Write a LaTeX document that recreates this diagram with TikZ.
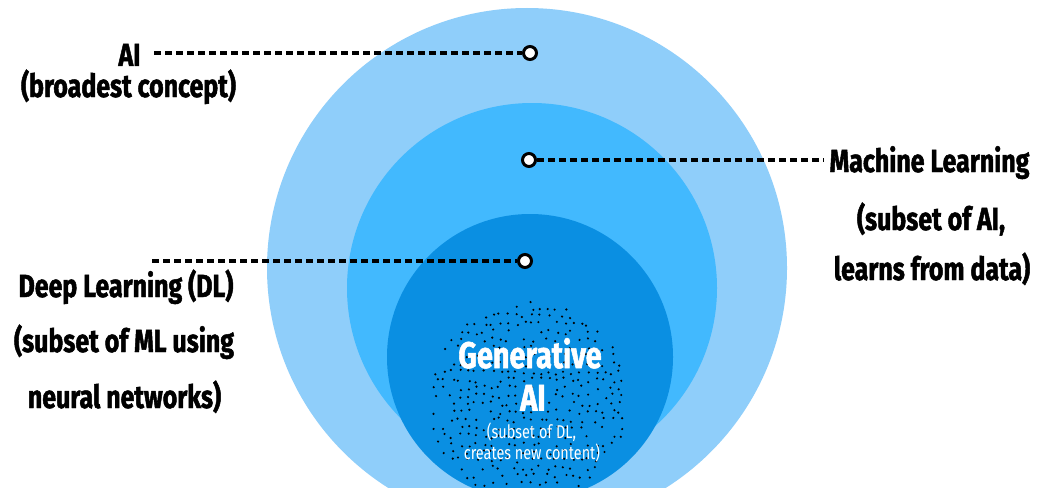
\documentclass[tikz,border=0pt]{standalone}
\usepackage{fontspec}
\newfontfamily\lblfont[FakeStretch=0.78,BoldFeatures={FakeBold=1.5}]{Fira Sans}
\definecolor{outerblue}{RGB}{143,206,250}
\definecolor{midblue}{RGB}{66,185,254}
\definecolor{innerblue}{RGB}{10,143,226}
\begin{document}
\begin{tikzpicture}[x=1pt,y=-1pt,
  lbl/.style={font=\lblfont\bfseries\fontsize{32}{32}\selectfont, inner sep=0pt, anchor=base, text=black},
  genlbl/.style={font=\lblfont\bfseries\fontsize{37}{37}\selectfont, inner sep=0pt, anchor=base, text=white},
  gensub/.style={font=\lblfont\fontsize{18.5}{18.5}\selectfont, inner sep=0pt, anchor=base, text=white},
  conn/.style={line width=3.2pt, dash pattern=on 6.5pt off 4.5pt, draw=black},
  marker/.style={circle, draw=black, fill=white, line width=3pt, minimum size=13pt, inner sep=0pt}]
\useasboundingbox (0,0) rectangle (1038,487);
\fill[white] (0,0) rectangle (1038,487);
\begin{scope}
\clip (0,0) rectangle (1038,487);
\fill[outerblue] (527,268) circle (260);
\fill[midblue] (532,288) circle (185);
\fill[innerblue] (530,357) circle (143);
\begin{scope}
\clip (530,357) circle (143);
\pgfmathsetseed{11}
\foreach \gx in {-100,-92,...,100}{
  \foreach \gy in {-100,-92,...,100}{
    \pgfmathsetmacro{\px}{\gx+5*(rnd-0.5)}
    \pgfmathsetmacro{\py}{\gy+5*(rnd-0.5)}
    \pgfmathsetmacro{\keep}{((\px/10)*(\px/10)+(\py/10)*(\py/10)<100) && (rnd<0.78) ? 1 : 0}
    \ifdim\keep pt>0.5pt
      \fill[black] ({528+\px},{400+\py}) circle (1.2);
    \fi
  }
}
\end{scope}
\end{scope}
% labels
\node[lbl] (ai) at (129.5,66) {AI};
\node[lbl] (aidesc) at (128.5,97) {(broadest concept)};
\node[lbl] (ml) at (929.5,172) {Machine Learning};
\node[lbl] (mldesc1) at (931,230) {(subset of AI,};
\node[lbl] (mldesc2) at (932,280) {learns from data)};
\node[lbl] (dl) at (126,297) {Deep Learning (DL)};
\node[lbl] (dldesc1) at (124,352) {(subset of ML using};
\node[lbl] (dldesc2) at (124.5,408) {neural networks)};
\node[genlbl] (gen1) at (530,368) {Generative};
\node[genlbl] (gen2) at (533,410.5) {AI};
\node[gensub] (gensub1) at (531.5,438) {(subset of DL,};
\node[gensub] (gensub2) at (532,459) {creates new content)};
% markers
\node[marker] (d1) at (530,53) {};
\node[marker] (d2) at (529,160) {};
\node[marker] (d3) at (525,261) {};
\coordinate (aiend) at (154,53);
\coordinate (dlend) at (152,261);
\draw[conn] (aiend) -- (d1.west);
\draw[conn] (d2.east) -- ([xshift=-5pt]ml.west |- d2);
\draw[conn] (dlend) -- (d3.west);
\end{tikzpicture}
\end{document}
